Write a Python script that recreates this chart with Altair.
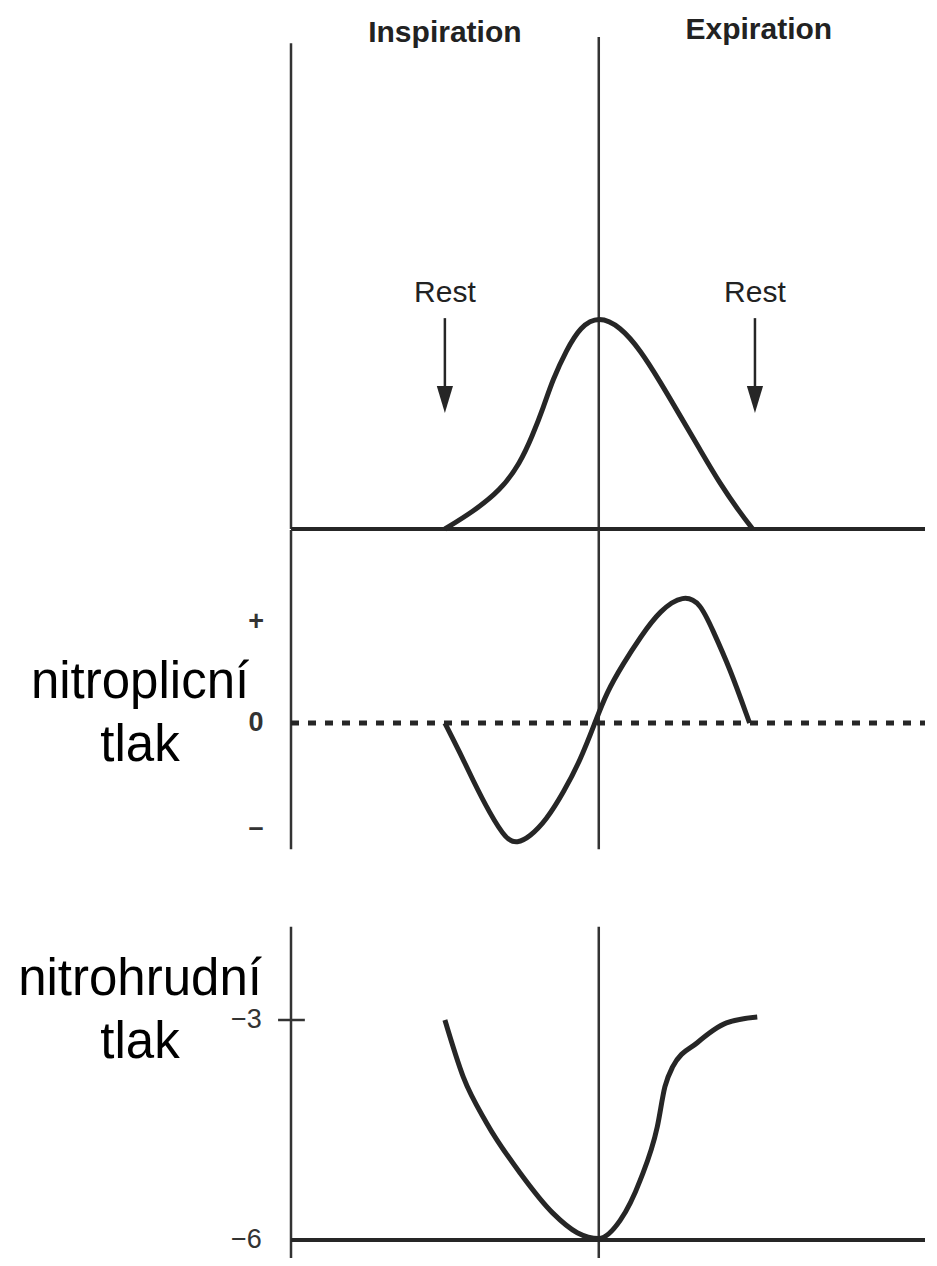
import altair as alt
import pandas as pd

# ---------------- data (time in arbitrary units: 0 = left axis, 2 = end of inspiration)
# lung volume (top panel)
vol_t = [1.0, 1.18, 1.36, 1.49, 1.57, 1.64, 1.70, 1.79, 1.88, 2.0, 2.14, 2.27, 2.40, 2.53, 2.66, 2.79, 2.92, 3.0]
vol_v = [0.0, 0.08, 0.18, 0.31, 0.44, 0.57, 0.70, 0.84, 0.95, 1.0, 0.95, 0.84, 0.69, 0.53, 0.37, 0.21, 0.075, 0.0]

# intrapulmonary pressure (middle panel)
alv_t = [1.0, 1.10, 1.18, 1.29, 1.40, 1.47, 1.55, 1.66, 1.77, 1.88, 1.975, 2.05, 2.16, 2.27, 2.40, 2.55, 2.66, 2.74, 2.85, 2.98]
alv_v = [0.0, -0.30, -0.56, -0.89, -1.16, -1.19, -1.13, -0.96, -0.69, -0.37, 0.0, 0.30, 0.59, 0.85, 1.12, 1.27, 1.19, 0.92, 0.55, 0.0]

# intrathoracic pressure (bottom panel)
pl_t = [1.0, 1.12, 1.27, 1.49, 1.70, 1.86, 2.0, 2.14, 2.27, 2.38, 2.43, 2.48, 2.64, 2.83, 3.03]
pl_v = [-3.0, -3.78, -4.40, -5.09, -5.63, -5.90, -5.98, -5.73, -5.18, -4.46, -3.91, -3.64, -3.31, -3.04, -2.96]

phase_labels = ["Inspiration", "Expiration"]
phase_t = [1.0, 3.04]
rest_t = [1.0, 3.015]
alv_ticks = ["+", "0", "\u2013"]
alv_tick_v = [1.0, 0.0, -1.04]
pl_ticks = ["\u22123", "\u22126"]
pl_tick_v = [-3.0, -6.0]
T_MAX = 4.12

# ---------------- scales (each panel has its own vertical range)
X = alt.Scale(domain=[0, T_MAX], nice=False, zero=False)
VOL = alt.Scale(domain=[0, 1], range=[521, 308], nice=False, zero=False)
ALV = alt.Scale(domain=[-1, 1], range=[816, 614], nice=False, zero=False)
PL = alt.Scale(domain=[-6, -3], range=[1232, 1012], nice=False, zero=False)

INK = "#262626"
AX = "#333333"
FONT = "Liberation Sans"


def xq(f):
    return alt.X(f, type="quantitative", scale=X, axis=None)


def yq(f, s):
    return alt.Y(f, type="quantitative", scale=s, axis=None)


# ---------------- top panel: volume
vol_df = pd.DataFrame({"t": vol_t, "v": vol_v})
vol_line = alt.Chart(vol_df).mark_line(color=INK, strokeWidth=5, interpolate="basis").encode(
    x=xq("t"), y=yq("v", VOL))

top_base = alt.Chart(pd.DataFrame({"t": [0.0], "t2": [T_MAX], "v": [0.0]})).mark_rule(
    color=INK, strokeWidth=4).encode(x=xq("t"), x2="t2", y=yq("v", VOL))

top_vert = alt.Chart(pd.DataFrame({"t": [0.0, 2.0], "v": [0.0, 0.0], "v2": [2.28, 2.31]})).mark_rule(
    color=AX, strokeWidth=2.5).encode(x=xq("t"), y=yq("v", VOL), y2="v2")

arrow_df = pd.DataFrame({"t": rest_t, "v": [0.99, 0.99], "v2": [0.66, 0.66],
                         "head": [0.608, 0.608], "lab": [1.11, 1.11], "txt": ["Rest", "Rest"]})
arrow_shaft = alt.Chart(arrow_df).mark_rule(color=INK, strokeWidth=2.5).encode(
    x=xq("t"), y=yq("v", VOL), y2="v2")
arrow_head = alt.Chart(arrow_df).mark_point(
    shape="M-0.6,-1L0.6,-1L0,1Z", size=729, filled=True, color=INK, opacity=1).encode(
    x=xq("t"), y=yq("head", VOL))
rest_text = alt.Chart(arrow_df).mark_text(
    font=FONT, fontSize=30, color="#222222", baseline="middle", align="center").encode(
    x=xq("t"), y=yq("lab", VOL), text="txt")

phase_df = pd.DataFrame({"t": phase_t, "v": [2.33, 2.345], "txt": phase_labels})
phase_text = alt.Chart(phase_df).mark_text(
    font=FONT, fontSize=30, fontWeight="bold", color="#222222", baseline="middle", align="center").encode(
    x=xq("t"), y=yq("v", VOL), text="txt")

# ---------------- middle panel: intrapulmonary pressure
alv_df = pd.DataFrame({"t": alv_t, "v": alv_v})
alv_line = alt.Chart(alv_df).mark_line(color=INK, strokeWidth=5, interpolate="basis").encode(
    x=xq("t"), y=yq("v", ALV))

alv_zero = alt.Chart(pd.DataFrame({"t": [0.0], "t2": [T_MAX], "v": [0.0]})).mark_rule(
    color=INK, strokeWidth=5, strokeDash=[8, 9]).encode(x=xq("t"), x2="t2", y=yq("v", ALV))

mid_vert = alt.Chart(pd.DataFrame({"t": [0.0, 2.0], "v": [1.91, 1.91], "v2": [-1.25, -1.25]})).mark_rule(
    color=AX, strokeWidth=2.5).encode(x=xq("t"), y=yq("v", ALV), y2="v2")

alv_tick_df = pd.DataFrame({"t": [-0.227] * 3, "v": alv_tick_v, "txt": alv_ticks})
alv_tick_text = alt.Chart(alv_tick_df).mark_text(
    font=FONT, fontSize=27, fontWeight="bold", color="#333333", baseline="middle", align="center").encode(
    x=xq("t"), y=yq("v", ALV), text="txt")

alv_title = alt.Chart(pd.DataFrame({"t": [-0.981], "v": [0.25], "txt": ["nitroplicní\ntlak"]})).mark_text(
    font=FONT, fontSize=51, color="black", baseline="alphabetic", align="center",
    lineBreak="\n", lineHeight=63).encode(x=xq("t"), y=yq("v", ALV), text="txt")

# ---------------- bottom panel: intrathoracic pressure
pl_df = pd.DataFrame({"t": pl_t, "v": pl_v})
pl_line = alt.Chart(pl_df).mark_line(color=INK, strokeWidth=5, interpolate="monotone").encode(
    x=xq("t"), y=yq("v", PL))

pl_base = alt.Chart(pd.DataFrame({"t": [0.0], "t2": [T_MAX], "v": [-6.0]})).mark_rule(
    color=INK, strokeWidth=4).encode(x=xq("t"), x2="t2", y=yq("v", PL))

bot_vert = alt.Chart(pd.DataFrame({"t": [0.0, 2.0], "v": [-1.73, -1.73], "v2": [-6.4, -6.4]})).mark_rule(
    color=AX, strokeWidth=2.5).encode(x=xq("t"), y=yq("v", PL), y2="v2")

pl_tick = alt.Chart(pd.DataFrame({"t": [-0.084], "t2": [0.09], "v": [-3.0]})).mark_rule(
    color=AX, strokeWidth=2.5).encode(x=xq("t"), x2="t2", y=yq("v", PL))

pl_tick_df = pd.DataFrame({"t": [-0.29, -0.29], "v": pl_tick_v, "txt": pl_ticks})
pl_tick_text = alt.Chart(pl_tick_df).mark_text(
    font=FONT, fontSize=27, color="#333333", baseline="middle", align="center").encode(
    x=xq("t"), y=yq("v", PL), text="txt")

pl_title = alt.Chart(pd.DataFrame({"t": [-0.981], "v": [-2.66], "txt": ["nitrohrudní\ntlak"]})).mark_text(
    font=FONT, fontSize=51, color="black", baseline="alphabetic", align="center",
    lineBreak="\n", lineHeight=63).encode(x=xq("t"), y=yq("v", PL), text="txt")

chart = alt.layer(
    top_vert, top_base, vol_line, arrow_shaft, arrow_head, rest_text, phase_text,
    mid_vert, alv_zero, alv_line, alv_tick_text, alv_title,
    bot_vert, pl_base, pl_tick, pl_line, pl_tick_text, pl_title,
).resolve_scale(y="independent").properties(
    width=634, height=1250,
    autosize=alt.AutoSizeParams(type="none"),
    padding={"left": 283, "top": 0, "right": 4, "bottom": 0},
).configure_view(stroke=None)

chart.save("out.html", embed_options={"renderer": "svg", "actions": False})
